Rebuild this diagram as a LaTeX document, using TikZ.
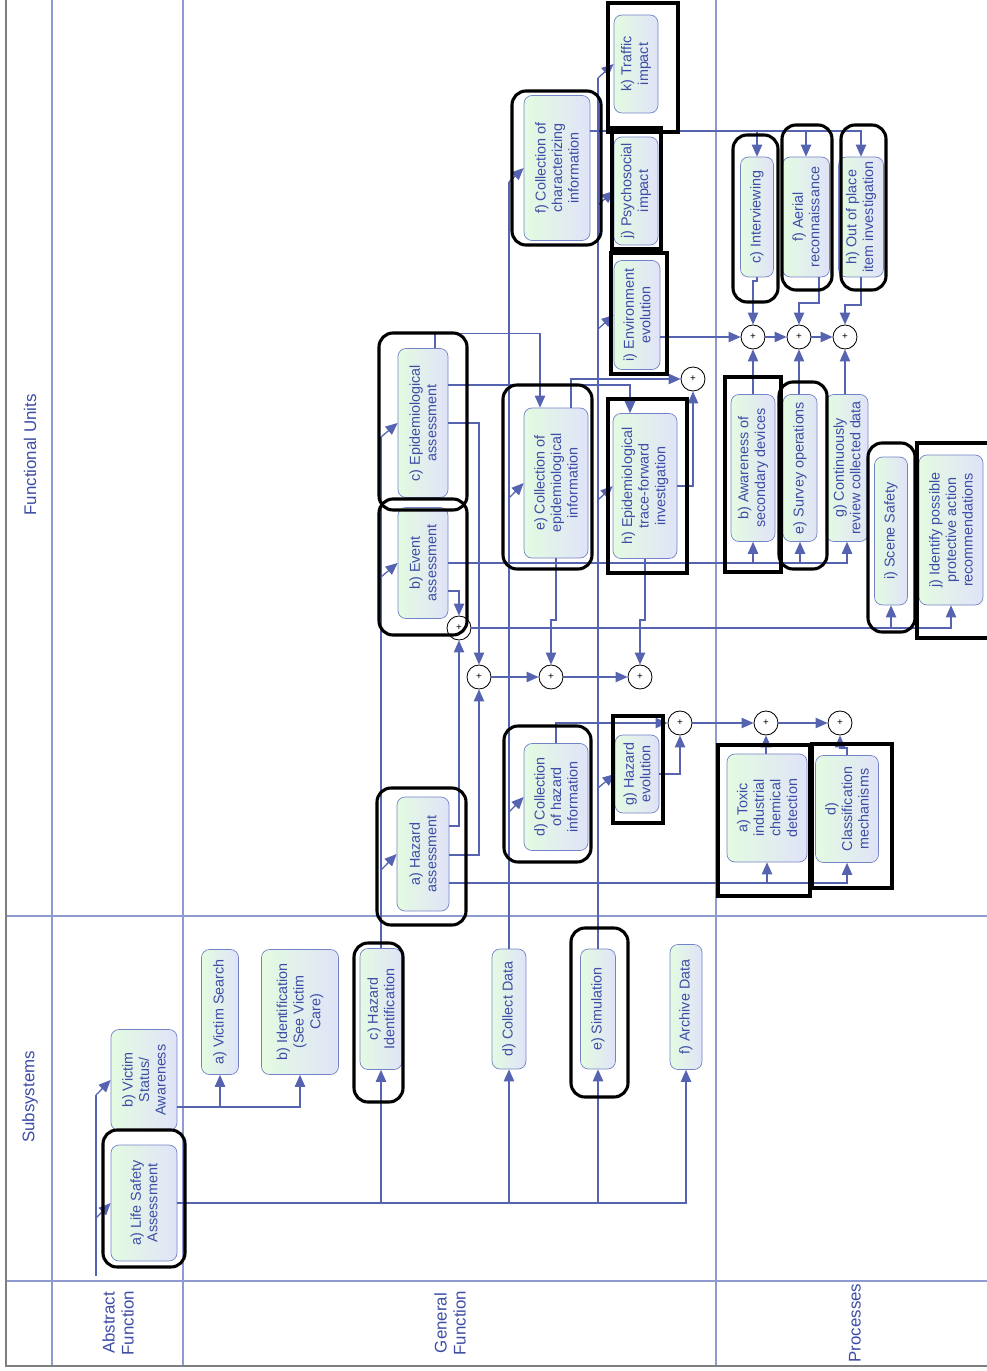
\documentclass[tikz,border=0pt]{standalone}
\usepackage{fontspec}
\setmainfont{Liberation Sans}
\usepackage{tikz}
\usetikzlibrary{arrows.meta}
\usepackage{xcolor}
\definecolor{laneBlue}{HTML}{8E9BD0}
\definecolor{wireBlue}{HTML}{5563B0}
\definecolor{boxEdge}{HTML}{7383C8}
\definecolor{mint}{HTML}{E4FBE1}
\definecolor{lavender}{HTML}{E0E3F8}
\definecolor{inkBlue}{HTML}{3D4DA5}
\definecolor{rimGray}{HTML}{7F7F7F}

\begin{document}
\begin{tikzpicture}[x=0.25mm, y=-0.25mm,
    lane/.style={laneBlue, line width=0.8pt},
    wire/.style={wireBlue, line width=0.9pt},
    feed/.style={wire, -{Triangle[length=3mm, width=2.6mm]}},
    task/.style 2 args={draw=boxEdge, line width=0.5pt, rounded corners=2mm, left color=mint, right color=lavender, rotate=90, text=inkBlue, align=center, inner sep=1pt, font=\fontsize{10.2}{11.8}\selectfont, minimum width=#1*0.25mm, minimum height=#2*0.25mm},
    sum/.style={draw, circle, fill=white, line width=0.6pt, minimum size=6mm, inner sep=0pt, font=\fontsize{7}{8}\selectfont},
    ring/.style={line width=2.2pt, rounded corners=3.5mm},
    pen/.style={line width=2.2pt},
    lanetitle/.style={rotate=90, text=inkBlue, align=center, font=\fontsize{12}{13.5}\selectfont}]
    \useasboundingbox (0,0) rectangle (987,1371);
    \draw[lane] (52,0) -- (52,1366);
    \draw[lane] (183,0) -- (183,1366);
    \draw[lane] (716,0) -- (716,1366);
    \draw[lane] (6,916) -- (987,916);
    \draw[lane] (6,1281) -- (987,1281);
    \draw[rimGray, line width=1.2pt] (6,0) -- (6,1366) -- (987,1366);

    \node[lanetitle] (fu) at (30,455) {Functional Units};
    \node[lanetitle] (ss) at (30,1097) {Subsystems};
    \node[lanetitle] (af) at (118,1323) {Abstract\\Function};
    \node[lanetitle] (gf) at (450,1323) {General\\Function};
    \node[lanetitle] (pr) at (855,1323) {Processes};

    \node[task={116}{66}] (ls) at (144,1203) {a) Life Safety\\Assessment};
    \node[task={101}{66}] (vs) at (144,1080) {b) Victim\\Status/\\Awareness};
    \node[task={125}{37}] (vsearch) at (220,1012) {a) Victim Search};
    \node[task={125}{77}] (ident) at (300,1012) {b) Identification\\(See Victim\\Care)};
    \node[task={121}{42}] (hid) at (381,1009) {c) Hazard\\Identification};
    \node[task={120}{34}] (cdata) at (509,1009) {d) Collect Data};
    \node[task={120}{35}] (sim) at (598,1009) {e) Simulation};
    \node[task={125}{32}] (arch) at (686,1007) {f) Archive Data};
    \node[task={114}{52}] (hazA) at (423,854) {a) Hazard\\assessment};
    \node[task={111}{50}] (evt) at (423,563) {b) Event\\assessment};
    \node[task={149}{50}] (epiA) at (423,423) {c) Epidemiological\\assessment};
    \node[task={107}{64}] (cHaz) at (556,797) {d) Collection\\of hazard\\information};
    \node[task={150}{64}] (cEpi) at (556,483) {e) Collection of\\epidemiological\\information};
    \node[task={145}{66}] (cChar) at (557,168) {f) Collection of\\characterizing\\information};
    \node[task={78}{44}] (hEvo) at (637,774) {g) Hazard\\evolution};
    \node[task={145}{64}] (trace) at (645,486) {h) Epidemiological\\trace-forward\\investigation};
    \node[task={109}{46}] (envEvo) at (637,315) {i) Environment\\evolution};
    \node[task={108}{44}] (psy) at (636,191) {j) Psychosocial\\impact};
    \node[task={98}{44}] (traf) at (636,64) {k) Traffic\\impact};
    \node[task={108}{80}] (tox) at (767,808) {a) Toxic\\industrial\\chemical\\detection};
    \node[task={147}{44}] (aware) at (753,468) {b) Awareness of\\secondary devices};
    \node[task={120}{33}] (intv) at (757,217) {c) Interviewing};
    \node[task={107}{63}] (classif) at (847,809) {d)\\Classification\\mechanisms};
    \node[task={147}{34}] (survey) at (800,468) {e) Survey operations};
    \node[task={120}{47}] (aerial) at (806,217) {f) Aerial\\reconnaissance};
    \node[task={147}{42}] (review) at (847,468) {g) Continuously\\review collected data};
    \node[task={120}{45}] (oop) at (861,217) {h) Out of place\\item investigation};
    \node[task={148}{33}] (scene) at (891,531) {i) Scene Safety};
    \node[task={150}{64}] (ipa) at (951,530) {j) Identify possible\\protective action\\recommendations};

    \node[sum] (sEvt) at (459,628) {+};
    \node[sum] (s1) at (479,677) {+};
    \node[sum] (s2) at (551,677) {+};
    \node[sum] (s3) at (640,677) {+};
    \node[sum] (sTop) at (693,379) {+};
    \node[sum] (sH) at (680,723) {+};
    \node[sum] (sT) at (766,723) {+};
    \node[sum] (sC) at (840,723) {+};
    \node[sum] (sI) at (753,337) {+};
    \node[sum] (sA) at (799,337) {+};
    \node[sum] (sO) at (845,337) {+};

    \coordinate (afFoot) at (96,1276);
    \coordinate (afMid) at (96,1218);
    \coordinate (afTop) at (96,1095);
    \draw[wire] (afFoot) -- (afTop);
    \draw[feed] (afMid) -- (ls.north);
    \draw[feed] (afTop) -- (vs.north);
    \draw[feed] (vs.south |- 0,1107) -| (vsearch.west);
    \draw[feed] (vs.south |- 0,1107) -| (ident.west);
    \draw[feed] (ls.south) -| (hid.west);
    \draw[feed] (ls.south) -| (cdata.west);
    \draw[feed] (ls.south) -| (sim.west);
    \draw[feed] (ls.south) -| (arch.west);

    \draw[wire] (hid.east) -- (hid.east |- 0,437);
    \draw[feed] (hid.east |- 0,870) -- (hazA.north);
    \draw[feed] (hid.east |- 0,577) -- (evt.north);
    \draw[feed] (hid.east |- 0,437) -- (epiA.north);
    \draw[wire] (cdata.east) -- (cdata.east |- 0,182);
    \draw[feed] (cdata.east |- 0,812) -- (cHaz.north);
    \draw[feed] (cdata.east |- 0,498) -- (cEpi.north);
    \draw[feed] (cdata.east |- 0,182) -- (cChar.north);
    \draw[wire] (sim.east) -- (sim.east |- 0,78);
    \draw[feed] (sim.east |- 0,788) -- (hEvo.north);
    \draw[feed] (sim.east |- 0,500) -- (trace.north);
    \draw[feed] (sim.east |- 0,329) -- (envEvo.north);
    \draw[feed] (sim.east |- 0,205) -- (psy.north);
    \draw[feed] (sim.east |- 0,78) -- (traf.north);

    \draw[feed] (epiA.east -| 435,0) -- ++(0,-15) -| (cEpi.east -| 540,0);
    \draw[feed] (epiA.south |- 0,385) -| (trace.east -| 630,0);
    \draw[feed] (epiA.south |- 0,423) -| (s1.north);
    \draw[feed] (evt.south) -| (aware.west);
    \draw[feed] (evt.south) -| (survey.west);
    \draw[feed] (evt.south) -| (review.west);
    \draw[feed] (evt.south |- 0,591) -| (sEvt.north);
    \draw[feed] (sEvt.east) -| (scene.west);
    \draw[feed] (sEvt.east) -| (ipa.west);
    \draw[feed] (hazA.south |- 0,826) -| (sEvt.south);
    \draw[feed] (hazA.south |- 0,855) -| (s1.south);
    \draw[feed] (hazA.south |- 0,883) -| (tox.west);
    \draw[feed] (hazA.south |- 0,883) -| (classif.west);
    \draw[feed] (cEpi.west) -- (cEpi.west |- 0,620) -| (s2.north);
    \draw[feed] (trace.west) -- (trace.west |- 0,620) -| (s3.north);
    \draw[feed] (trace.south) -| (sTop.south);
    \draw[feed] (cEpi.east -| 571,0) |- (sTop.west);
    \draw[feed] (s1) -- (s2);
    \draw[feed] (s2) -- (s3);
    \draw[feed] (cHaz.east) |- (sH.west);
    \draw[feed] (hEvo.south) -| (sH.south);
    \draw[feed] (sH) -- (sT);
    \draw[feed] (sT) -- (sC);
    \draw[feed] (sT.south |- tox.east) -- (sT.south);
    \draw[feed] (classif.east) -- (classif.east |- 0,748) -| (sC.south);
    \draw[feed] (cChar.south |- 0,131) -| (intv.east);
    \draw[feed] (cChar.south |- 0,131) -| (aerial.east);
    \draw[feed] (cChar.south |- 0,131) -| (oop.east);
    \draw[feed] (intv.west) -- (intv.west |- 0,281) -| (sI.north);
    \draw[feed] (aerial.west -| 819,0) -- (819,303) -| (sA.north);
    \draw[feed] (oop.west) -- (oop.west |- 0,305) -| (sO.north);
    \draw[feed] (envEvo.south |- 0,337) -- (sI.west);
    \draw[feed] (sI) -- (sA);
    \draw[feed] (sA) -- (sO);
    \draw[feed] (aware.east) -- (sI.south);
    \draw[feed] (sA.south |- survey.east) -- (sA.south);
    \draw[feed] (sO.south |- review.east) -- (sO.south);

    \draw[ring] (103,1130) rectangle (185,1267);
    \draw[ring] (354,943) rectangle (403,1102);
    \draw[ring] (571,928) rectangle (628,1097);
    \draw[ring] (377,788) rectangle (466,925);
    \draw[ring] (379,499) rectangle (467,635);
    \draw[ring] (379,333) rectangle (467,510);
    \draw[ring] (503,385) rectangle (592,569);
    \draw[ring] (504,726) rectangle (591,862);
    \draw[ring] (512,91) rectangle (601,245);
    \draw[ring] (733,135) rectangle (778,302);
    \draw[ring] (782,125) rectangle (832,290);
    \draw[ring] (841,125) rectangle (886,290);
    \draw[ring] (779,382) rectangle (827,569);
    \draw[ring] (868,443) rectangle (915,632);
    \draw[pen] (608,3) rectangle (678,132);
    \draw[pen] (612,128) rectangle (661,249);
    \draw[pen] (611,253) rectangle (667,374);
    \draw[pen] (608,399) rectangle (687,573);
    \draw[pen] (725,377) rectangle (781,572);
    \draw[pen] (613,716) rectangle (663,823);
    \draw[pen] (718,745) rectangle (810,896);
    \draw[pen] (812,744) rectangle (892,888);
    \draw[pen] (987,443) -- (917,443) -- (917,638) -- (987,638);
  \end{tikzpicture}
\end{document}
